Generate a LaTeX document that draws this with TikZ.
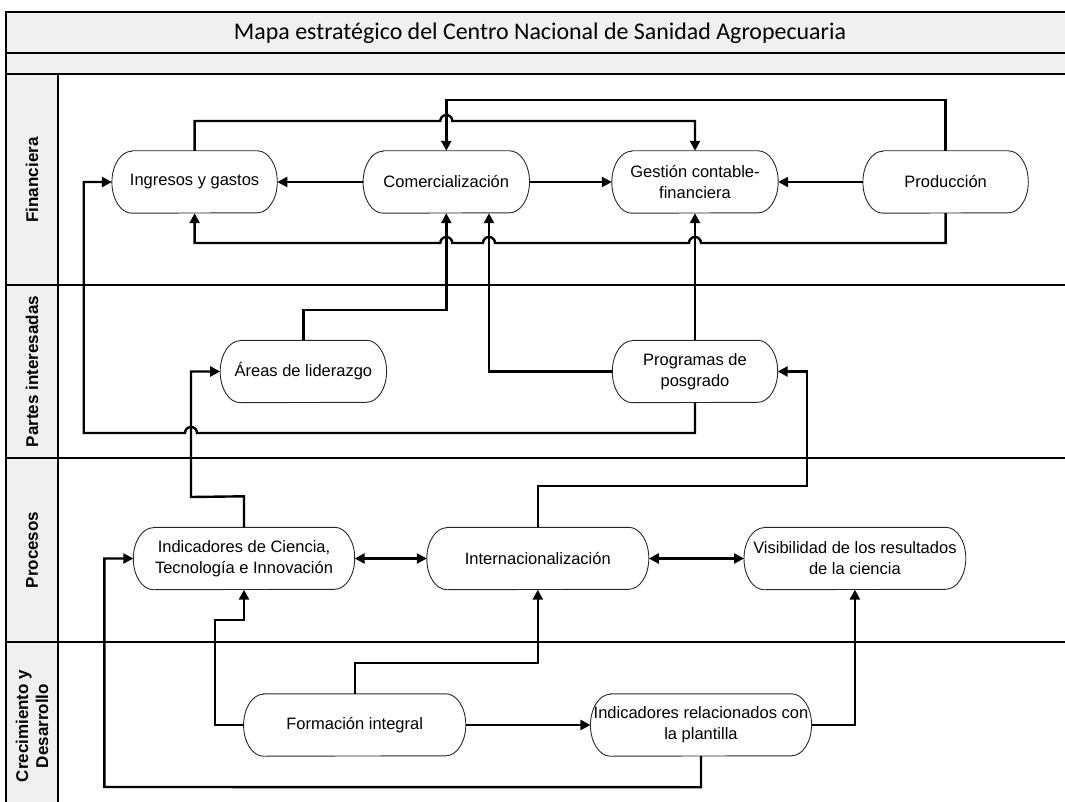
\documentclass[tikz,border=0pt]{standalone}
\usepackage{fontspec}
\usepackage{graphicx}
\setmainfont{Liberation Sans}
\newfontfamily\titlefont{Carlito}
\usetikzlibrary{arrows.meta,calc}
\definecolor{bandgray}{RGB}{240,240,240}
\definecolor{edgegray}{RGB}{40,40,40}
\newcommand\termoutline[1]{%
  \draw[termline] ([xshift=20pt]#1.north west) -- ([xshift=-20pt]#1.north east)
    arc[start angle=-90, end angle=90, x radius=20, y radius=31]
    -- ([xshift=20pt]#1.south west)
    arc[start angle=90, end angle=270, x radius=20, y radius=31] -- cycle;}
\begin{document}
\begin{tikzpicture}[x=1pt,y=-1pt,
  conn/.style={line width=2.4pt, -{Triangle[length=10pt,width=10pt]}},
  biconn/.style={line width=2.4pt, {Triangle[length=10pt,width=10pt]}-{Triangle[length=10pt,width=10pt]}},
  termline/.style={line width=0.9pt, draw=edgegray},
  nodebox/.style={minimum height=62pt, inner sep=0pt, align=center,
    font=\fontsize{16.5}{21}\selectfont},
  lanelabel/.style={rotate=90, align=center, inner sep=0pt,
    font=\fontsize{17}{20}\selectfont\bfseries},
  laneline/.style={line width=1.1pt, draw=black},
]
\useasboundingbox (0,0) rectangle (1065,802);
\fill[white] (0,0) rectangle (1065,802);
% bands
\fill[bandgray] (6,12) rectangle (1065,74);
\fill[bandgray] (6,74) rectangle (58,802);
\draw[laneline] (6,810) -- (6,12) -- (1070,12);
\draw[laneline] (6,53) -- (1070,53);
\draw[laneline] (6,74) -- (1070,74);
\draw[laneline] (58,74) -- (58,810);
\draw[laneline] (6,285) -- (1070,285);
\draw[laneline] (6,458) -- (1070,458);
\draw[laneline] (6,642) -- (1070,642);

% title
\node (title) at (540,33) {\titlefont\resizebox{612pt}{!}{Mapa estratégico del Centro Nacional de Sanidad Agropecuaria}};

% lane labels
\node[lanelabel] (lfin) at (32,180) {Financiera};
\node[lanelabel] (lpar) at (32,371.5) {Partes interesadas};
\node[lanelabel] (lpro) at (32,550) {Procesos};
\node[lanelabel] (lcre) at (32,726) {Crecimiento y\\Desarrollo};

% nodes
\node[nodebox, minimum width=165pt] (ing) at (194.6,182) {Ingresos y gastos};
\node[nodebox, minimum width=166pt] (com) at (446.3,182) {Comercialización};
\node[nodebox, minimum width=166pt] (ges) at (695,182) {Gestión contable-\\financiera};
\node[nodebox, minimum width=165pt] (pro) at (945.6,182) {Producción};
\node[nodebox, minimum width=166pt] (are) at (303.4,371.5) {Áreas de liderazgo};
\node[nodebox, minimum width=165pt] (pos) at (695,371.5) {Programas de\\posgrado};
\node[nodebox, minimum width=221pt] (cti) at (244,558.5) {Indicadores de Ciencia,\\Tecnología e Innovación};
\node[nodebox, minimum width=221.6pt] (int) at (537.8,558.5) {Internacionalización};
\node[nodebox, minimum width=221.4pt] (vis) at (854.9,558.5) {Visibilidad de los resultados\\de la ciencia};
\node[nodebox, minimum width=221.8pt] (for) at (354.7,725) {Formación integral};
\node[nodebox, minimum width=220.7pt] (ipl) at (701,725) {Indicadores relacionados con\\la plantilla};
\foreach \n in {ing,com,ges,pro,are,pos,cti,int,vis,for,ipl}{\termoutline{\n}}

% connectors - Financiera
\draw[conn] (ing.north) |- (440.3,121) arc[start angle=180, end angle=360, radius=6] -| (ges.north);
\draw[conn] (pro.north) -- ++(0,-51) -| (com.north);
\draw[conn] (com.west) -- (ing.east);
\draw[conn] (com.east) -- (ges.west);
\draw[conn] (pro.west) -- (ges.east);
\draw[conn] (pro.south) |- (701,243) arc[start angle=0, end angle=-180, radius=6]
  -- (495,243) arc[start angle=0, end angle=-180, radius=6]
  -- (452.3,243) arc[start angle=0, end angle=-180, radius=6] -| (ing.south);

% Partes interesadas
\draw[conn] (are.north) -- ++(0,-30.5) -| (com.south);
\draw[conn] (pos.west) -| ($(com.south)+(42.7,0)$);
\draw[conn] (pos.north) -- (ges.south);
\draw[conn] (pos.south) |- (197,433) arc[start angle=0, end angle=-180, radius=6]
  -- (83.7,433) |- (ing.west);

% Procesos
\draw[conn] (cti.north) -- ++(0,-31) -- (191,497) |- (are.west);
\draw[conn] (int.north) |- (807,486) |- (pos.east);
\draw[biconn] (cti.east) -- (int.west);
\draw[biconn] (int.east) -- (vis.west);

% Crecimiento y Desarrollo
\draw[conn] (for.west) -| (215,620) -| (cti.south);
\draw[conn] (for.north) -- ++(0,-31) -| (int.south);
\draw[conn] (for.east) -- (ipl.west);
\draw[conn] (ipl.east) -| (vis.south);
\draw[conn] (ipl.south) -- ++(0,31) -- (104.3,787) |- (cti.west);
\end{tikzpicture}
\end{document}
